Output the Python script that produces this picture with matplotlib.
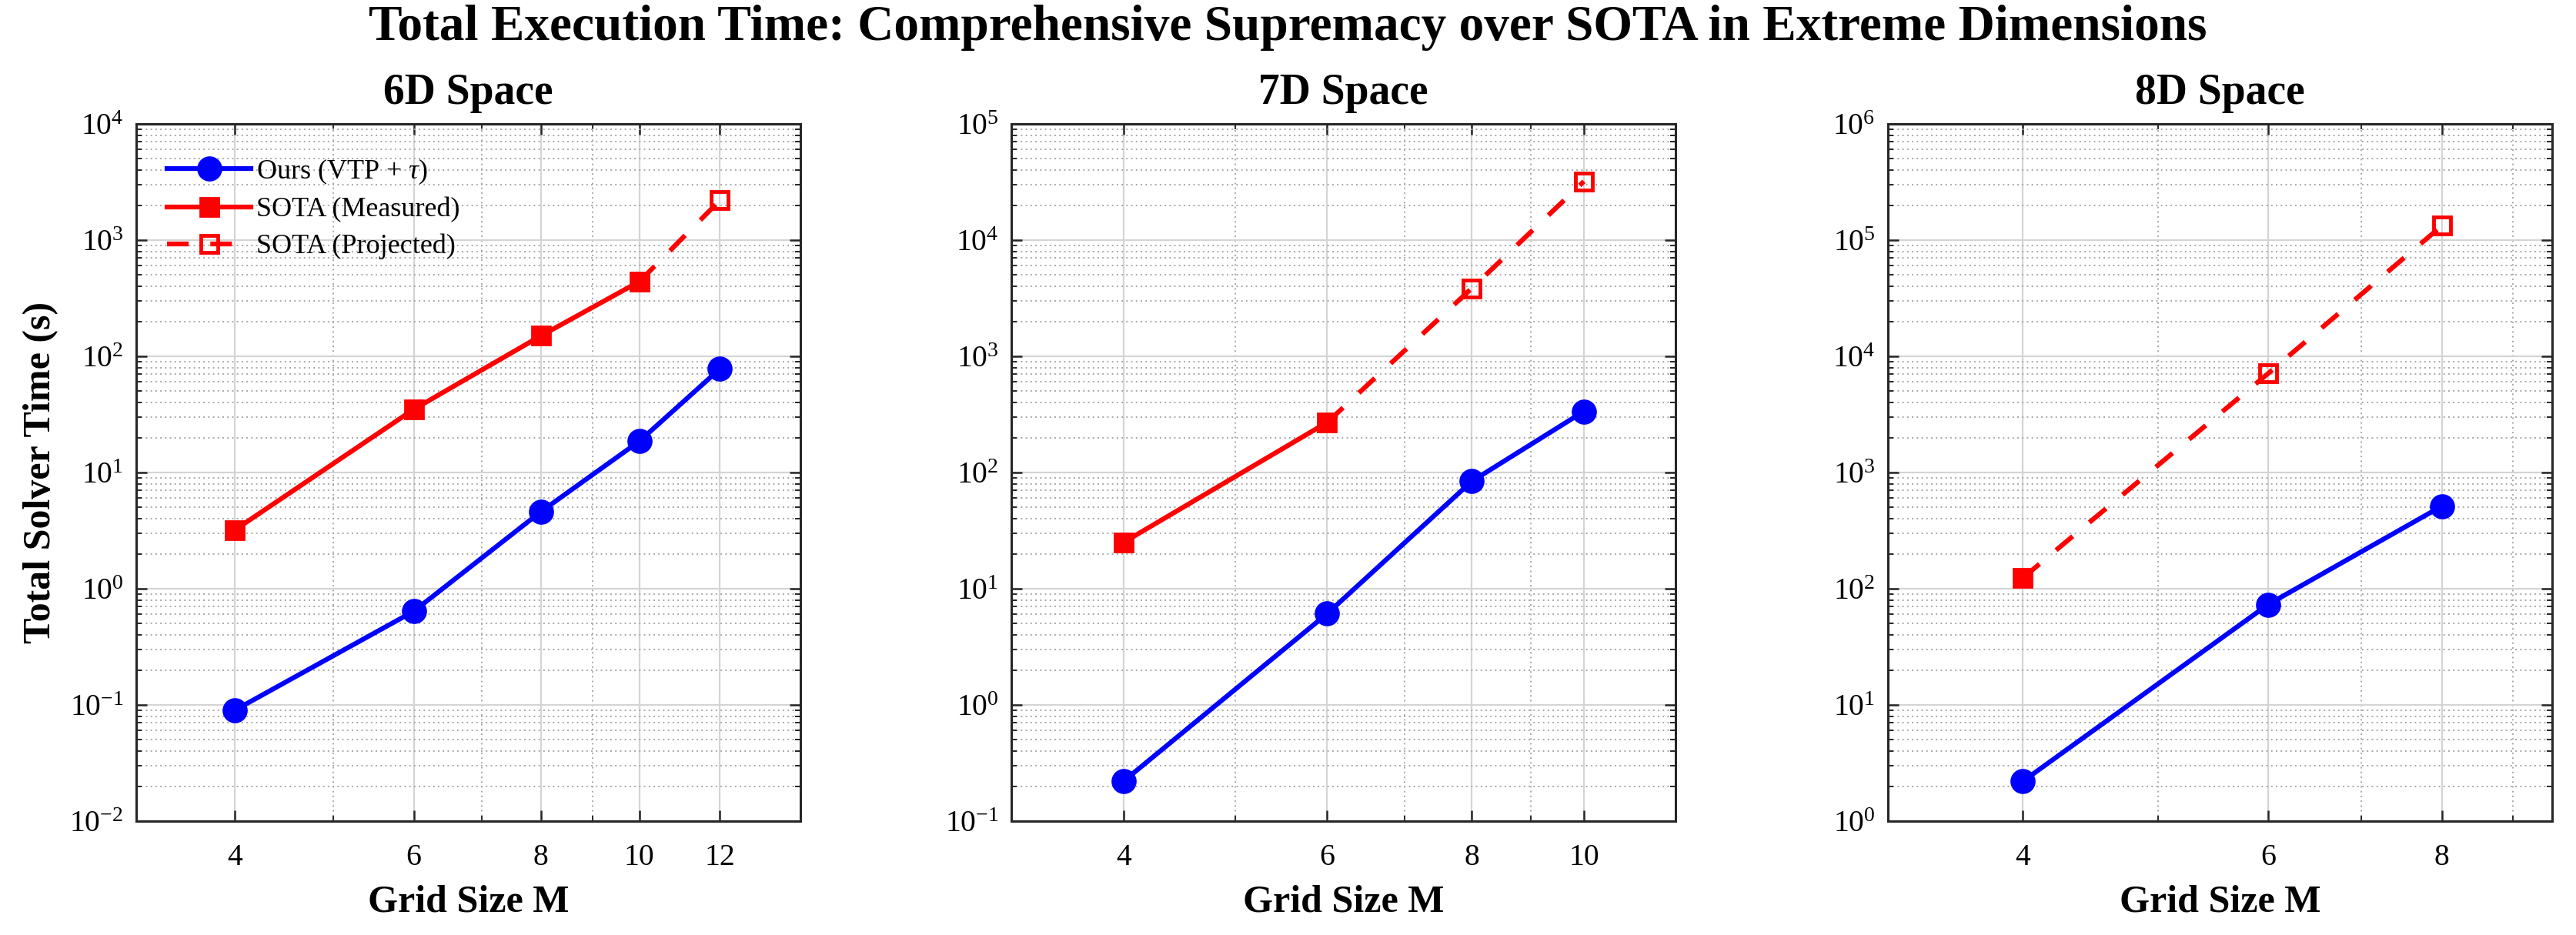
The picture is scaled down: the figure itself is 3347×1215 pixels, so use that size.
import matplotlib
matplotlib.use('Agg')
import matplotlib.pyplot as plt
from matplotlib.lines import Line2D
from matplotlib.ticker import FixedLocator, NullFormatter

plt.rcParams['font.family'] = 'Liberation Serif'
plt.rcParams['mathtext.fontset'] = 'custom'
plt.rcParams['mathtext.rm'] = 'Liberation Serif'
plt.rcParams['mathtext.it'] = 'Liberation Serif:italic'
plt.rcParams['mathtext.bf'] = 'Liberation Serif:bold'

# --- data ---
titles = ['6D Space', '7D Space', '8D Space']

grid_6d = [4, 6, 8, 10, 12]
ours_6d = [0.09, 0.64, 4.6, 18.6, 78]
sota_m_6d = [4, 6, 8, 10]
sota_6d = [3.2, 35, 150, 440]
proj_m_6d = [12]
proj_6d = [2200]

grid_7d = [4, 6, 8, 10]
ours_7d = [0.22, 6.1, 84, 336]
sota_m_7d = [4, 6]
sota_7d = [25, 270]
proj_m_7d = [8, 10]
proj_7d = [3850, 32000]

grid_8d = [4, 6, 8]
ours_8d = [2.2, 73, 514]
sota_m_8d = [4]
sota_8d = [124]
proj_m_8d = [6, 8]
proj_8d = [7100, 133000]

# decade exponents of each panel's y-range
ydecades = [(-2, 4), (-1, 5), (0, 6)]

panels = [
    (grid_6d, ours_6d, sota_m_6d, sota_6d, proj_m_6d, proj_6d),
    (grid_7d, ours_7d, sota_m_7d, sota_7d, proj_m_7d, proj_7d),
    (grid_8d, ours_8d, sota_m_8d, sota_8d, proj_m_8d, proj_8d),
]

W, H = 3347, 1215
fig = plt.figure(figsize=(W / 100, H / 100), dpi=100)

lefts = [177, 1314, 2453]
ax_w, ax_top, ax_bot = 863, 161, 1067

LW = 4.5
DASH = (0, (4.5, 4.5))
TICK_FS = 28.5
LABEL_FS = 36
TITLE_FS = 40

for i, (grid, ours, sm, sv, pm, pv) in enumerate(panels):
    ax = fig.add_axes([lefts[i] / W, 1 - ax_bot / H, ax_w / W, (ax_bot - ax_top) / H])
    ax.set_xscale('log')
    ax.set_yscale('log')

    ax.plot(grid, ours, '-o', color='#0000ff', lw=LW, ms=22, mew=1.5, zorder=4)
    ax.plot(sm, sv, '-s', color='#ff0000', lw=LW, ms=17, mew=2, zorder=3)
    ax.plot([sm[-1]] + pm, [sv[-1]] + pv, color='#ff0000', lw=LW, ls=DASH, zorder=3)
    ax.plot(pm, pv, 's', color='#ff0000', ms=16, mew=3.5, mfc='none', zorder=5)

    lo, hi = ydecades[i]
    ax.set_xlim(0.8 * grid[0], 1.2 * grid[-1])
    ax.set_ylim(10.0 ** lo, 10.0 ** hi)

    ax.xaxis.set_major_locator(FixedLocator(grid))
    ax.set_xticklabels([str(g) for g in grid])
    ax.xaxis.set_minor_locator(FixedLocator([m for m in [5, 7, 9] if m < 1.2 * grid[-1]]))
    ax.xaxis.set_minor_formatter(NullFormatter())

    ax.set_yticks([10.0 ** e for e in range(lo, hi + 1)])
    ax.set_yticklabels([r'$10^{%d}$' % e for e in range(lo, hi + 1)])
    ax.yaxis.set_minor_locator(FixedLocator([k * 10.0 ** e for e in range(lo, hi) for k in range(2, 10)]))
    ax.yaxis.set_minor_formatter(NullFormatter())

    ax.grid(which='major', color='#d4d4d4', lw=1.6, ls='-', zorder=0)
    ax.grid(which='minor', color='#a8a8a8', lw=1.4, ls=(0, (1, 2.2)), zorder=0)
    ax.set_axisbelow(True)

    ax.tick_params(which='both', direction='in', top=True, right=True,
                   labelsize=TICK_FS, color='#262626')
    ax.tick_params(which='major', length=10, width=1.8)
    ax.tick_params(which='minor', length=5, width=1.4)
    ax.tick_params(axis='x', which='major', pad=21)
    ax.tick_params(axis='y', which='major', pad=12)
    for sp in ax.spines.values():
        sp.set_linewidth(2.2)
        sp.set_color('#262626')

    ax.text(0.5, 1.044, titles[i], transform=ax.transAxes, ha='center', va='center',
            fontsize=TITLE_FS, fontweight='bold')
    ax.set_xlabel('Grid Size M', fontsize=LABEL_FS, fontweight='bold', va='center')
    ax.xaxis.set_label_coords(0.5, -0.116)

    if i == 0:
        ax.set_ylabel('Total Solver Time (s)', fontsize=LABEL_FS, fontweight='bold', va='center')
        ax.yaxis.set_label_coords(-0.144, 0.5)
        handles = [
            Line2D([], [], color='#0000ff', lw=LW, marker='o', ms=22, mew=1.5),
            Line2D([], [], color='#ff0000', lw=LW, marker='s', ms=17, mew=2),
            Line2D([], [], color='#ff0000', lw=LW, ls=DASH, marker='s', ms=16, mew=3.5, mfc='none'),
        ]
        labels = [r'Ours (VTP + $\tau$)', 'SOTA (Measured)', 'SOTA (Projected)']
        ax.legend(handles, labels, loc='upper left', bbox_to_anchor=(0.03, 0.968),
                  frameon=False, fontsize=26, handlelength=3.0, handletextpad=0.2,
                  labelspacing=0.4, borderaxespad=0, borderpad=0.4)

fig.text(0.5, 1 - 36 / H,
         'Total Execution Time: Comprehensive Supremacy over SOTA in Extreme Dimensions',
         ha='center', va='center', fontsize=47, fontweight='bold')

fig.savefig('out.png', dpi=100)
